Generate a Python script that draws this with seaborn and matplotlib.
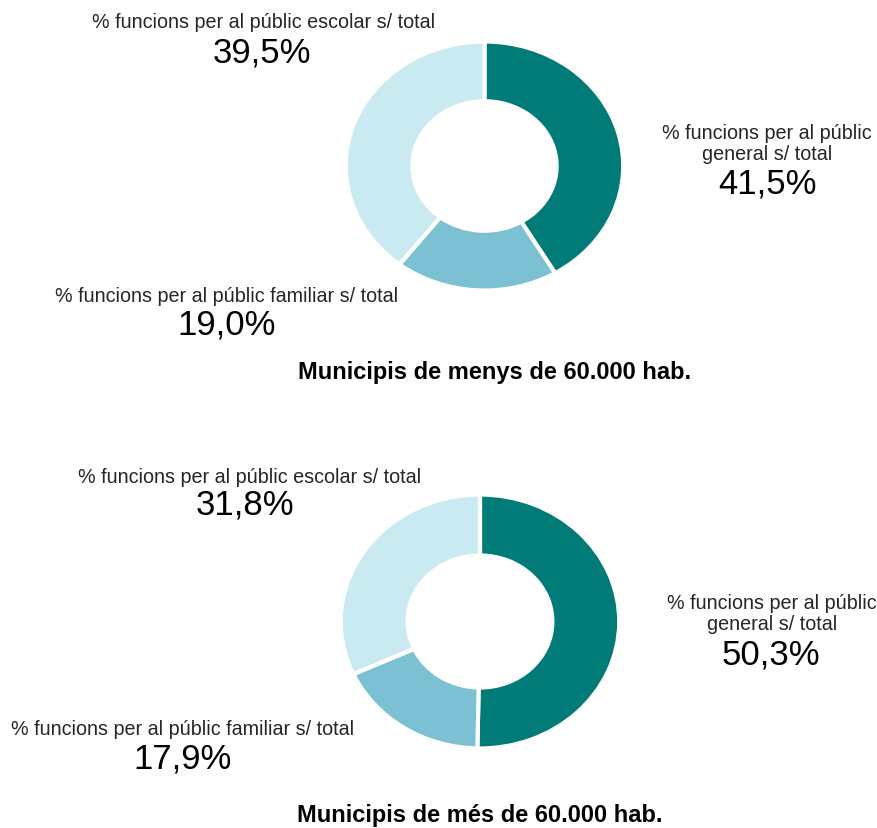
import matplotlib
matplotlib.use("Agg")
import matplotlib.pyplot as plt
import seaborn as sns

# dades
categories = ["general", "familiar", "escolar"]
menys_60k = [41.5, 19.0, 39.5]
mes_60k = [50.3, 17.9, 31.8]
titols = ["Municipis de menys de 60.000 hab.", "Municipis de més de 60.000 hab."]
etiqueta_escolar = "% funcions per al públic escolar s/ total"
etiqueta_familiar = "% funcions per al públic familiar s/ total"
etiqueta_general = "% funcions per al públic\ngeneral s/ total"

colors = ["#007b78", "#7cc0d3", "#c9eaf0"]

sns.set_theme(style="white")
plt.rcParams["font.family"] = ["Liberation Sans", "DejaVu Sans"]

W, H = 878, 829
fig = plt.figure(figsize=(W / 100, H / 100), dpi=100)
fig.patch.set_facecolor("white")


def px(x, y):
    return x / W, 1 - y / H


def donut(caixa, valors):
    x0, y0, x1, y1 = caixa
    ax = fig.add_axes([x0 / W, 1 - y1 / H, (x1 - x0) / W, (y1 - y0) / H])
    ax.pie(valors, colors=colors, startangle=90, counterclock=False,
           radius=1, wedgeprops=dict(width=0.48, edgecolor="white", linewidth=3))
    ax.set_xlim(-1.02, 1.02)
    ax.set_ylim(-1.02, 1.02)
    ax.set_aspect("auto")
    ax.axis("off")
    return ax


def fmt(v):
    return f"{v:.1f}%".replace(".", ",")


gris = "#262626"
mida_et = 14.2
mida_num = 25
mida_tit = 17


def etiqueta(x, y, text, **kw):
    fig.text(*px(x, y), text, ha="center", va="center", fontsize=mida_et, color=gris, **kw)


def numero(x, y, v):
    fig.text(*px(x, y), fmt(v), ha="center", va="center", fontsize=mida_num, color="black")


# ---- primer grafic ----
donut((343, 40, 626, 294), menys_60k)
etiqueta(264, 22, etiqueta_escolar)
numero(262, 53, menys_60k[2])
etiqueta(767, 144, etiqueta_general, linespacing=1.15)
numero(768, 184, menys_60k[0])
etiqueta(227, 297, etiqueta_familiar)
numero(227, 325, menys_60k[1])
fig.text(*px(495, 373), titols[0], ha="center", va="center", fontsize=mida_tit,
         fontweight="bold", color="black")

# ---- segon grafic ----
donut((338, 493, 622, 752), mes_60k)
etiqueta(250, 478, etiqueta_escolar)
numero(245, 505, mes_60k[2])
etiqueta(772, 614, etiqueta_general, linespacing=1.15)
numero(771, 655, mes_60k[0])
etiqueta(183, 730, etiqueta_familiar)
numero(183, 759, mes_60k[1])
fig.text(*px(480, 816), titols[1], ha="center", va="center", fontsize=mida_tit,
         fontweight="bold", color="black")

fig.savefig("out.png", dpi=100, facecolor="white")
